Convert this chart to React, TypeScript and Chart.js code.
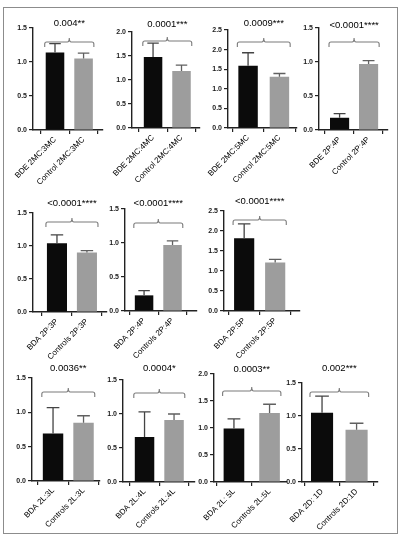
import React, { useEffect, useRef } from "react";
import { Chart, registerables } from "chart.js";

Chart.register(...registerables);

// ---- Data ----
const labels1 = ["BDE 2MC:3MC", "Control 2MC:3MC"];
const means1 = [1.14, 1.05];
const upper1 = [1.27, 1.13];

const labels2 = ["BDE 2MC:4MC", "Control 2MC:4MC"];
const means2 = [1.48, 1.19];
const upper2 = [1.77, 1.31];

const labels3 = ["BDE 2MC:5MC", "Control 2MC:5MC"];
const means3 = [1.59, 1.31];
const upper3 = [1.92, 1.39];

const labels4 = ["BDE 2P:4P", "Control 2P:4P"];
const means4 = [0.18, 0.97];
const upper4 = [0.24, 1.02];

const labels5 = ["BDA 2P:3P", "Controls 2P:3P"];
const means5 = [1.04, 0.9];
const upper5 = [1.17, 0.93];

const labels6 = ["BDA 2P:4P", "Controls 2P:4P"];
const means6 = [0.23, 0.97];
const upper6 = [0.3, 1.03];

const labels7 = ["BDA 2P:5P", "Controls 2P:5P"];
const means7 = [1.82, 1.21];
const upper7 = [2.18, 1.29];

const labels8 = ["BDA 2L:3L", "Controls 2L:3L"];
const means8 = [0.69, 0.85];
const upper8 = [1.07, 0.95];

const labels9 = ["BDA 2L:4L", "Controls 2L:4L"];
const means9 = [0.66, 0.91];
const upper9 = [1.03, 1.0];

const labels10 = ["BDA 2L: 5L", "Controls 2L:5L"];
const means10 = [0.99, 1.28];
const upper10 = [1.17, 1.44];

const labels11 = ["BDA 2D: 1D", "Controls 2D:1D"];
const means11 = [1.05, 0.79];
const upper11 = [1.3, 0.89];

const pValues = [
  "0.004**",
  "0.0001***",
  "0.0009***",
  "<0.0001****",
  "<0.0001****",
  "<0.0001****",
  "<0.0001****",
  "0.0036**",
  "0.0004*",
  "0.0003**",
  "0.002***",
];

const yMaxes = [1.5, 2.0, 2.5, 1.5, 1.5, 1.5, 2.5, 1.5, 1.5, 2.0, 1.5];

const allLabels = [labels1, labels2, labels3, labels4, labels5, labels6, labels7, labels8, labels9, labels10, labels11];
const allMeans = [means1, means2, means3, means4, means5, means6, means7, means8, means9, means10, means11];
const allUpper = [upper1, upper2, upper3, upper4, upper5, upper6, upper7, upper8, upper9, upper10, upper11];

// ---- Layout (page positions of each panel's axes) ----
type Layout = {
  ax: number; end: number; top: number; bot: number;
  titleY: number; brY: number; xMin: number; xMax: number; bp: number;
};
const layouts: Layout[] = [
  { ax: 33, end: 103, top: 28, bot: 130, titleY: 23, brY: 42, xMin: 0.23, xMax: 2.68, bp: 0.65 },
  { ax: 132, end: 200, top: 32, bot: 128, titleY: 24, brY: 41, xMin: 0.26, xMax: 2.65, bp: 0.65 },
  { ax: 228, end: 297, top: 30, bot: 128, titleY: 23, brY: 42, xMin: 0.36, xMax: 2.56, bp: 0.62 },
  { ax: 319, end: 388, top: 28, bot: 130, titleY: 25, brY: 42, xMin: 0.29, xMax: 2.67, bp: 0.66 },
  { ax: 33, end: 107, top: 213, bot: 312, titleY: 203, brY: 222, xMin: 0.2, xMax: 2.67, bp: 0.67 },
  { ax: 125, end: 197, top: 209, bot: 311, titleY: 203, brY: 223, xMin: 0.33, xMax: 2.86, bp: 0.65 },
  { ax: 224, end: 300, top: 211, bot: 311, titleY: 201, brY: 220, xMin: 0.35, xMax: 2.8, bp: 0.65 },
  { ax: 32, end: 100, top: 378, bot: 481, titleY: 368, brY: 392, xMin: 0.31, xMax: 2.54, bp: 0.67 },
  { ax: 123, end: 195, top: 380, bot: 482, titleY: 368, brY: 393, xMin: 0.27, xMax: 2.71, bp: 0.66 },
  { ax: 214, end: 287, top: 374, bot: 482, titleY: 369, brY: 391, xMin: 0.44, xMax: 2.49, bp: 0.58 },
  { ax: 302, end: 378, top: 383, bot: 482, titleY: 368, brY: 392, xMin: 0.42, xMax: 2.62, bp: 0.64 },
];

const BLACK = "#0b0b0b";
const GRAY = "#9d9d9d";
const AXIS = "#222";
const FONT = "'Liberation Sans', Arial, sans-serif";
const Y_W = 40;
const TOP_PAD = 34;
const X_H = 64;
const RIGHT_PAD = 8;

function Panel({ idx }: { idx: number }) {
  const ref = useRef<HTMLCanvasElement>(null);
  const L = layouts[idx];
  const left = L.ax - Y_W;
  const top = L.top - TOP_PAD;
  const width = L.end + RIGHT_PAD - left;
  const height = L.bot - top + X_H;

  useEffect(() => {
    const labels = allLabels[idx];
    const means = allMeans[idx];
    const upper = allUpper[idx];
    const annot = {
      id: "annot" + idx,
      afterDatasetsDraw(chart: any) {
        const ctx = chart.ctx;
        const xs = chart.scales.x;
        const ys = chart.scales.y;
        const meta = chart.getDatasetMeta(0);
        ctx.save();
        // error bars (upper whisker with cap)
        meta.data.forEach((el: any, i: number) => {
          const x = el.x;
          const y0 = ys.getPixelForValue(means[i]);
          const y1 = ys.getPixelForValue(upper[i]);
          const cw = el.width * 0.62;
          ctx.strokeStyle = i === 0 ? "#444" : "#606060";
          ctx.lineWidth = 1.3;
          ctx.beginPath();
          ctx.moveTo(x, y0);
          ctx.lineTo(x, y1);
          ctx.moveTo(x - cw / 2, y1);
          ctx.lineTo(x + cw / 2, y1);
          ctx.stroke();
        });
        // significance bracket
        const b0: any = meta.data[0];
        const b1: any = meta.data[1];
        const x1 = b0.x - b0.width / 2 - 1;
        const x2 = b1.x + b1.width / 2 + 1;
        const xm = xs.getPixelForValue(1.5);
        const by = L.brY - top;
        ctx.strokeStyle = "#7a7a7a";
        ctx.lineWidth = 1.1;
        ctx.beginPath();
        ctx.moveTo(x1, by + 5);
        ctx.lineTo(x1, by + 2);
        ctx.quadraticCurveTo(x1, by, x1 + 2, by);
        ctx.lineTo(xm - 2, by);
        ctx.quadraticCurveTo(xm, by, xm, by - 4);
        ctx.quadraticCurveTo(xm, by, xm + 2, by);
        ctx.lineTo(x2 - 2, by);
        ctx.quadraticCurveTo(x2, by, x2, by + 2);
        ctx.lineTo(x2, by + 5);
        ctx.stroke();
        // p value
        ctx.fillStyle = "#000";
        ctx.font = `9.5px ${FONT}`;
        ctx.textAlign = "center";
        ctx.textBaseline = "middle";
        ctx.fillText(pValues[idx], xm, L.titleY - top);
        ctx.restore();
      },
    };

    const chart = new Chart(ref.current as HTMLCanvasElement, {
      type: "bar",
      data: {
        datasets: [
          {
            data: means.map((v, i) => ({ x: i + 1, y: v })) as any,
            backgroundColor: [BLACK, GRAY],
            borderWidth: 0,
            barPercentage: L.bp,
            categoryPercentage: 1,
          },
        ],
      },
      options: {
        responsive: false,
        animation: false,
        layout: { padding: { top: TOP_PAD, right: RIGHT_PAD, left: 0, bottom: 0 } },
        plugins: {
          legend: { display: false },
          tooltip: { enabled: false },
        },
        scales: {
          x: {
            type: "linear",
            min: L.xMin,
            max: L.xMax,
            offset: false,
            afterBuildTicks: (s: any) => {
              s.ticks = [{ value: 1 }, { value: 2 }];
            },
            afterFit: (s: any) => {
              s.height = X_H;
              s.paddingLeft = 0;
              s.paddingRight = 0;
            },
            ticks: {
              autoSkip: false,
              minRotation: 45,
              maxRotation: 45,
              padding: 1,
              color: "#000",
              font: { size: 8, family: FONT },
              callback: (v: any) => labels[Math.round(Number(v)) - 1] ?? "",
            },
            grid: {
              drawOnChartArea: false,
              drawTicks: true,
              tickLength: 4,
              color: AXIS,
              lineWidth: 1.2,
            },
            border: { display: true, color: AXIS, width: 1.4 },
          },
          y: {
            min: 0,
            max: yMaxes[idx],
            afterFit: (s: any) => {
              s.width = Y_W;
              s.paddingTop = 0;
              s.paddingBottom = 0;
            },
            ticks: {
              stepSize: 0.5,
              padding: 2,
              color: "#1a1a1a",
              font: { size: 7, family: FONT, weight: "bold" },
              callback: (v: any) => Number(v).toFixed(1),
            },
            grid: {
              drawOnChartArea: false,
              drawTicks: true,
              tickLength: 4,
              color: AXIS,
              lineWidth: 1.2,
            },
            border: { display: true, color: AXIS, width: 1.4 },
          },
        },
      } as any,
      plugins: [annot],
    });
    return () => chart.destroy();
  }, [idx]);

  return (
    <canvas
      ref={ref}
      width={width}
      height={height}
      style={{ position: "absolute", left, top, width, height }}
    />
  );
}

export default function App() {
  return (
    <div
      style={{
        position: "fixed",
        left: 0,
        top: 0,
        width: 404,
        height: 540,
        background: "#fff",
        overflow: "hidden",
      }}
    >
      <div
        style={{
          position: "absolute",
          left: 3,
          top: 7,
          width: 393,
          height: 525,
          border: "1px solid #8c8c8c",
        }}
      />
      {layouts.map((_, i) => (
        <Panel key={i} idx={i} />
      ))}
    </div>
  );
}
